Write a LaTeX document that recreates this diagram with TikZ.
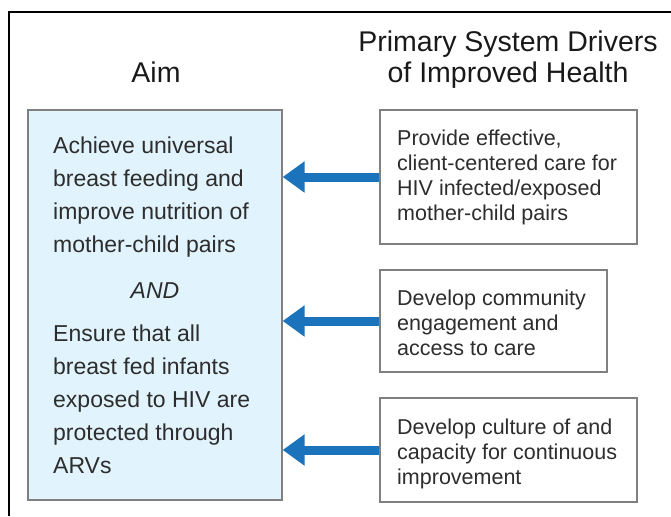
\documentclass[tikz,border=0pt]{standalone}
\usepackage{fontspec}
\setmainfont{Liberation Sans}
\usetikzlibrary{arrows.meta, positioning}
\definecolor{aimfill}{RGB}{225,243,252}
\definecolor{boxline}{RGB}{128,128,128}
\definecolor{arrowblue}{RGB}{27,115,187}
\definecolor{inkgray}{RGB}{45,45,45}

\begin{document}
\begin{tikzpicture}[x=1pt, y=-1pt]
	\tikzstyle{every node} = [inner sep=0pt, text=inkgray]
	\tikzstyle{drvbox} = [rectangle, draw=boxline, line width=1.3pt, fill=white]
	\tikzstyle{drvtext} = [anchor=base west, align=left, font=\fontsize{21.5}{25}\selectfont]
	\tikzstyle{aimtext} = [anchor=base west, align=left, font=\fontsize{23}{33}\selectfont]
	\tikzstyle{title} = [align=center, font=\fontsize{28.5}{31}\selectfont, text=black!90]
	\tikzstyle{bigarrow} = [draw=arrowblue, line width=9pt, -{Triangle[length=22pt, width=30pt]}]
	\useasboundingbox (0,0) rectangle (671,516);
	\draw[line width=2.5pt] (9,516) -- (9,12) -- (671,12);

	% multi-line nodes sit on the baseline of their last line
	\node[title, anchor=base] (aim_title) at (156,83) {Aim};
	\node[title, anchor=base] (drv_title) at (508,83) {Primary System Drivers\\of Improved Health};

	\node[drvbox, fill=aimfill, minimum width=254pt, minimum height=390pt] (aim) at (155,305) {};
	\node[aimtext] (aim_one) at (53,252) {Achieve universal\\breast feeding and\\improve nutrition of\\mother-child pairs};
	\node[aimtext, anchor=base] (aim_and) at (155,298) {\itshape AND};
	\node[aimtext] (aim_two) at (53,473) {Ensure that all\\breast fed infants\\exposed to HIV are\\protected through\\ARVs};

	\node[drvbox, minimum width=257pt, minimum height=134pt] (drv_care) at (508.5,177) {};
	\node[drvbox, minimum width=227pt, minimum height=102pt] (drv_comm) at (493.5,321) {};
	\node[drvbox, minimum width=257pt, minimum height=104pt] (drv_qi) at (508.5,450) {};
	\node[drvtext] (care_txt) at (397,220) {Provide effective,\\client-centered care for\\HIV infected/exposed\\mother-child pairs};
	\node[drvtext] (comm_txt) at (397,355) {Develop community\\engagement and\\access to care};
	\node[drvtext] (qi_txt) at (397,484) {Develop culture of and\\capacity for continuous\\improvement};

	\draw
	(drv_care.west) edge[bigarrow] (aim.east |- drv_care.west)
	(drv_comm.west) edge[bigarrow] (aim.east |- drv_comm.west)
	(drv_qi.west) edge[bigarrow] (aim.east |- drv_qi.west)
	;
\end{tikzpicture}
\end{document}
